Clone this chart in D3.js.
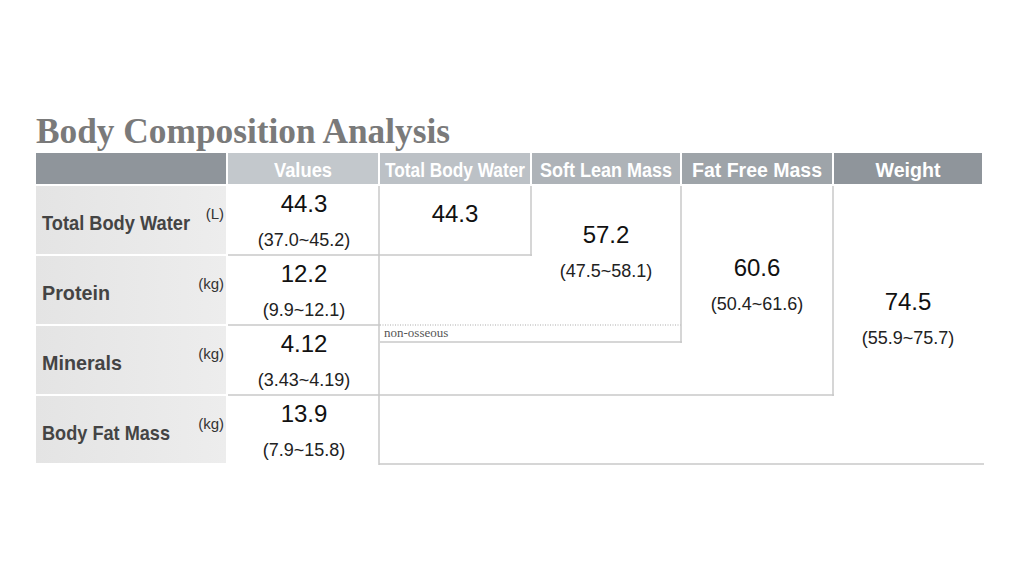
<!DOCTYPE html>
<html><head><meta charset="utf-8">
<script src="https://cdn.jsdelivr.net/npm/d3@7"></script>
<style>body{margin:0;background:#fff}</style></head>
<body><svg id="c" width="1024" height="576"></svg>
<script>
const headers = ["", "Values", "Total Body Water", "Soft Lean Mass", "Fat Free Mass", "Weight"];
const rowLabels = ["Total Body Water", "Protein", "Minerals", "Body Fat Mass"];
const units = ["(L)", "(kg)", "(kg)", "(kg)"];
const values = ["44.3", "12.2", "4.12", "13.9"];
const ranges = ["(37.0~45.2)", "(9.9~12.1)", "(3.43~4.19)", "(7.9~15.8)"];
const groupValues = ["44.3", "57.2", "60.6", "74.5"];
const groupRanges = ["", "(47.5~58.1)", "(50.4~61.6)", "(55.9~75.7)"];

const svg = d3.select("#c");
const colEdges = [36, 228, 380, 532, 682, 834, 984];
const rowEdges = [153, 186, 256, 326, 396, 465];
const x = i => colEdges[i], y = i => rowEdges[i];
const hdrFill = ["#8f959b", "#c3c8cc", "#bcc1c6", "#aeb3b8", "#9ea4a9", "#8f959b"];
const hdrLen = [0, 58, 140, 132, 130, 65];
const labelLen = [148, 68, 80, 128];

svg.append("text").attr("x", 36).attr("y", 143).text("Body Composition Analysis")
  .attr("font-family", "Liberation Serif, serif").attr("font-weight", "bold")
  .attr("font-size", 35).attr("fill", "#7a7a7a").attr("textLength", 414).attr("lengthAdjust", "spacingAndGlyphs");

headers.forEach((h, i) => {
  svg.append("rect").attr("x", x(i)).attr("y", y(0)).attr("width", x(i + 1) - x(i) - 2)
    .attr("height", y(1) - y(0) - 2).attr("fill", hdrFill[i]);
  if (h) svg.append("text").attr("x", (x(i) + x(i + 1) - 2) / 2).attr("y", 177).text(h)
    .attr("text-anchor", "middle").attr("fill", "#fff").attr("font-family", "Liberation Sans, Arial, sans-serif")
    .attr("font-weight", "bold").attr("font-size", 20).attr("textLength", hdrLen[i])
    .attr("lengthAdjust", "spacingAndGlyphs");
});

const grad = svg.append("defs").append("linearGradient").attr("id", "g");
grad.append("stop").attr("offset", "0").attr("stop-color", "#e4e4e4");
grad.append("stop").attr("offset", "1").attr("stop-color", "#ededed");

rowLabels.forEach((l, r) => {
  svg.append("rect").attr("x", x(0)).attr("y", y(r + 1)).attr("width", x(1) - x(0) - 2)
    .attr("height", y(r + 2) - y(r + 1) - 2).attr("fill", "url(#g)");
  svg.append("text").attr("x", 42).attr("y", (y(r + 1) + y(r + 2)) / 2 + 9).text(l)
    .attr("font-family", "Liberation Sans, Arial, sans-serif").attr("font-weight", "bold").attr("font-size", 21).attr("fill", "#444")
    .attr("textLength", labelLen[r]).attr("lengthAdjust", "spacingAndGlyphs");
  svg.append("text").attr("x", 224).attr("y", (y(r + 1) + y(r + 2)) / 2 - 2).text(units[r])
    .attr("text-anchor", "end").attr("font-family", "Liberation Sans, Arial, sans-serif").attr("font-size", 15).attr("fill", "#333");
  const cx = (x(1) + x(2)) / 2;
  svg.append("text").attr("x", cx).attr("y", y(r + 1) + 26).text(values[r]).attr("text-anchor", "middle")
    .attr("font-family", "Liberation Sans, Arial, sans-serif").attr("font-size", 24).attr("fill", "#111");
  svg.append("text").attr("x", cx).attr("y", y(r + 1) + 60).text(ranges[r]).attr("text-anchor", "middle")
    .attr("font-family", "Liberation Sans, Arial, sans-serif").attr("font-size", 18).attr("fill", "#222");
});

const line = (x1, y1, x2, y2, dash) => svg.append("line").attr("x1", x1).attr("y1", y1).attr("x2", x2).attr("y2", y2)
  .attr("stroke", "#c8c8c8").attr("stroke-width", 1.5).attr("stroke-dasharray", dash || null);
[2, 3, 4].forEach(r => line(x(1), y(r) - 1, x(2), y(r) - 1));
line(x(2) - 1, y(1), x(2) - 1, y(5));
line(x(2) - 1, y(5) - 1, x(6), y(5) - 1);

const boxBottoms = [y(2), 343, y(4), y(5)];
const boxRight = [x(3), x(4), x(5), x(6)];
const cy = [221, 255, 288, 322];
groupValues.forEach((v, i) => {
  if (i < 3) {
    line(boxRight[i] - 1, y(1), boxRight[i] - 1, boxBottoms[i]);
    line(x(2), boxBottoms[i] - 1, boxRight[i], boxBottoms[i] - 1);
  }
  const cx = (x(i + 2) + x(i + 3) - 2) / 2;
  svg.append("text").attr("x", cx).attr("y", i === 0 ? 222 : cy[i] - 12).text(v).attr("text-anchor", "middle")
    .attr("font-family", "Liberation Sans, Arial, sans-serif").attr("font-size", 24).attr("fill", "#111");
  if (groupRanges[i]) svg.append("text").attr("x", cx).attr("y", cy[i] + 22).text(groupRanges[i])
    .attr("text-anchor", "middle").attr("font-family", "Liberation Sans, Arial, sans-serif").attr("font-size", 18).attr("fill", "#222");
});
line(x(2), y(3) - 1, x(4), y(3) - 1, "1,1.5");
svg.append("text").attr("x", 384).attr("y", 337).text("non-osseous")
  .attr("font-family", "Liberation Serif, serif").attr("font-size", 13).attr("fill", "#555");
</script></body></html>
